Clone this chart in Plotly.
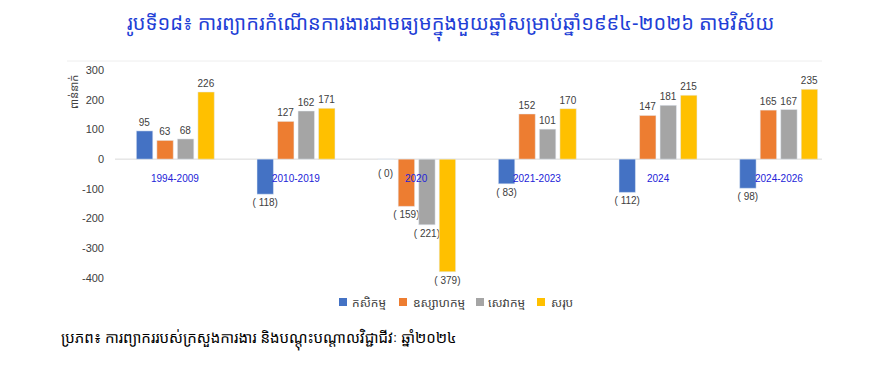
import plotly.graph_objects as go

categories = ["1994-2009", "2010-2019", "2020", "2021-2023", "2024", "2024-2026"]
series_names = ["កសិកម្ម", "ឧស្សាហកម្ម", "សេវាកម្ម", "សរុប"]
agriculture = [95, -118, 0, -83, -112, -98]
industry = [63, 127, -159, 152, 147, 165]
services = [68, 162, -221, 101, 181, 167]
total = [226, 171, -379, 170, 215, 235]
y_ticks = [300, 200, 100, 0, -100, -200, -300, -400]
y_ticktext = ["300", "200", "100", "0", "-100", "-200", "-300", "-400"]

title_text = "រូបទី១៨៖ ការព្យាករកំណើនការងារជាមធ្យមក្នុងមួយឆ្នាំសម្រាប់ឆ្នាំ១៩៩៤-២០២៦ តាមវិស័យ"
source_text = "ប្រភព៖ ការព្យាកររបស់ក្រសួងការងារ និងបណ្តុះបណ្តាលវិជ្ជាជីវៈ ឆ្នាំ២០២៤"
y_title = "ពាន់នាក់"

colors = ["#4472C4", "#ED7D31", "#A5A5A5", "#FFC000"]
KH = "Noto Sans Khmer, Khmer OS, Noto Sans, DejaVu Sans, sans-serif"
LBL = "Liberation Sans, Arial"
BARGAP = 0.32
N_SERIES = 4

# figure layout (pixels)
W, H = 886, 378
ML, MR, MT, MB = 107, 55, 62, 108
PW, PH = W - ML - MR, H - MT - MB
# legend item positions (pixels from left of figure)
legend_marker_x = [331, 391, 468, 529]
legend_text_x = [344, 405, 480, 543]
legend_y_px = 294


def px_x(px):
    return (px - ML) / PW


def px_y(py):
    return (H - MB - py) / PH


def fmt(v):
    return f"( {abs(v)})" if v <= 0 else str(v)


fig = go.Figure()
all_series = [agriculture, industry, services, total]
slot = (1 - BARGAP) / N_SERIES
for k, (name, vals, c) in enumerate(zip(series_names, all_series, colors)):
    fig.add_trace(go.Bar(
        x=categories, y=vals, name=name, marker_color=c,
        text=[fmt(v) if v != 0 else "" for v in vals], textposition="outside",
        constraintext="none",
        textfont=dict(size=10, color="#404040", family=LBL),
        cliponaxis=False, showlegend=False,
    ))
    # zero-valued bars: label drawn just below the zero line
    for i, v in enumerate(vals):
        if v == 0:
            fig.add_annotation(x=i + (k - (N_SERIES - 1) / 2) * slot, y=0, xref="x", yref="y",
                               text=fmt(v), showarrow=False, yshift=-14,
                               font=dict(size=10, color="#404040", family=LBL))
    # legend entry
    fig.add_shape(type="rect", xref="paper", yref="paper",
                  x0=px_x(legend_marker_x[k]), x1=px_x(legend_marker_x[k] + 8),
                  y0=px_y(legend_y_px + 4), y1=px_y(legend_y_px - 4),
                  fillcolor=c, line=dict(width=0))
    fig.add_annotation(x=px_x(legend_text_x[k]), y=px_y(legend_y_px), xref="paper", yref="paper",
                       xanchor="left", yanchor="middle", text=name, showarrow=False, xshift=-2,
                       font=dict(size=12, color="#404040", family=KH))

for i, cat in enumerate(categories):
    fig.add_annotation(x=i, y=0, xref="x", yref="y", text=cat, showarrow=False,
                       yshift=-19, font=dict(size=10, color="#2323d8",
                                             family="Liberation Sans Narrow, Liberation Sans, Arial"))

fig.add_annotation(x=0.463, y=1, xref="paper", yref="paper", yanchor="top", text=title_text,
                   showarrow=False, font=dict(size=20, color="#1f3fd6", family=KH), yshift=63)
fig.add_annotation(x=px_x(51), y=px_y(331), xref="paper", yref="paper", xanchor="left", yanchor="middle",
                   text=source_text, showarrow=False,
                   font=dict(size=15, color="#000000", family=KH))
fig.add_annotation(x=px_x(65), y=px_y(84), xref="paper", yref="paper", xanchor="center", yanchor="middle",
                   text=y_title, showarrow=False,
                   textangle=-90, font=dict(size=11, color="#404040", family=KH))

fig.add_shape(type="line", xref="paper", yref="paper", x0=px_x(59), x1=px_x(814),
              y0=px_y(53), y1=px_y(53), line=dict(color="#eeeeee", width=1))
fig.add_shape(type="line", xref="paper", yref="y", x0=0, x1=px_x(814), y0=0, y1=0, layer="below",
              line=dict(color="#d9d9d9", width=1))

fig.update_layout(
    width=W, height=H,
    margin=dict(l=ML, r=MR, t=MT, b=MB, autoexpand=False),
    paper_bgcolor="white", plot_bgcolor="white",
    barmode="group", bargap=BARGAP, bargroupgap=0.2,
    showlegend=False,
    xaxis=dict(type="category", range=[-0.5, 5.5], showticklabels=False, showgrid=False,
               zeroline=False, showline=False),
    yaxis=dict(range=[-400, 300], tickvals=y_ticks, ticktext=y_ticktext, showgrid=False, zeroline=False,
               showline=False,
               tickfont=dict(size=11, color="#404040", family=LBL),
               ticks="", ticklabelstandoff=10),
)

fig.write_html("out.html")
